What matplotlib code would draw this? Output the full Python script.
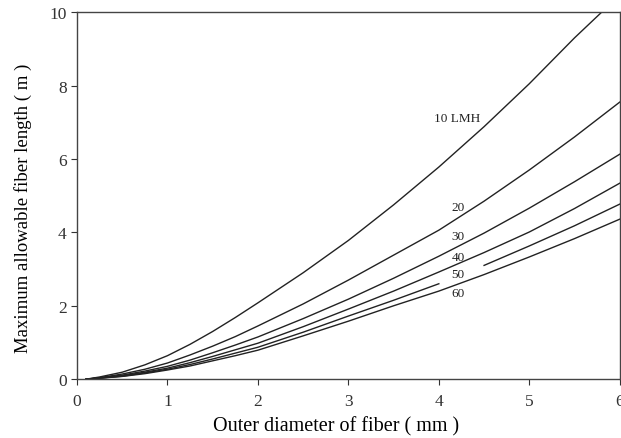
import numpy as np
import matplotlib
matplotlib.use("Agg")
import matplotlib.pyplot as plt

plt.rcParams['font.family'] = ['Liberation Serif', 'DejaVu Serif']

# Outer diameter of fiber (mm)
x_common = [0.1, 0.25, 0.5, 0.75, 1.0, 1.25, 1.5, 1.75, 2.0, 2.5, 3.0, 3.5, 4.0, 4.5, 5.0, 5.5, 6.0]
x_10 = [0.1, 0.25, 0.5, 0.75, 1.0, 1.25, 1.5, 1.75, 2.0, 2.5, 3.0, 3.5, 4.0, 4.5, 5.0, 5.5, 5.8]
x_50 = [0.1, 0.25, 0.5, 0.75, 1.0, 1.25, 1.5, 1.75, 2.0, 2.5, 3.0, 3.5, 4.0, 4.25, 4.5, 5.0, 5.5, 6.0]

# Maximum allowable fiber length (m) for each flux (LMH)
y_10 = [0.0, 0.06, 0.19, 0.39, 0.64, 0.95, 1.30, 1.68, 2.08, 2.90, 3.78, 4.75, 5.78, 6.88, 8.05, 9.30, 10.0]
y_20 = [0.0, 0.04, 0.14, 0.27, 0.44, 0.66, 0.90, 1.16, 1.45, 2.05, 2.70, 3.38, 4.06, 4.85, 5.70, 6.60, 7.55]
y_30 = [0.0, 0.035, 0.11, 0.22, 0.35, 0.52, 0.72, 0.93, 1.15, 1.65, 2.18, 2.75, 3.35, 3.98, 4.66, 5.38, 6.13]
y_40 = [0.0, 0.03, 0.09, 0.19, 0.30, 0.45, 0.62, 0.80, 0.98, 1.43, 1.91, 2.40, 2.92, 3.45, 4.01, 4.65, 5.34]
y_50 = [0.0, 0.03, 0.08, 0.17, 0.27, 0.40, 0.55, 0.71, 0.87, 1.28, 1.72, 2.15, 2.60, np.nan, 3.10, 3.63, 4.18, 4.77]
y_60 = [0.0, 0.025, 0.075, 0.15, 0.25, 0.36, 0.50, 0.64, 0.79, 1.18, 1.58, 2.00, 2.40, 2.85, 3.33, 3.83, 4.36]

labels = ["10 LMH", "20", "30", "40", "50", "60"]
label_pos = [(3.95, 7.12), (4.14, 4.7), (4.14, 3.9), (4.14, 3.32), (4.14, 2.87), (4.14, 2.35)]

fig = plt.figure(figsize=(6.21, 4.39), dpi=100)
ax = fig.add_axes([0.124, 0.134, 0.874, 0.836])

col = '#222222'
for xs, ys in [(x_10, y_10), (x_common, y_20), (x_common, y_30),
               (x_common, y_40), (x_50, y_50), (x_common, y_60)]:
    ax.plot(xs, ys, color=col, lw=1.0)

for lab, (lx, ly) in zip(labels, label_pos):
    ax.text(lx, ly, lab, fontsize=9.5, ha='left', va='center', color=col)

ax.set_xlim(0, 6)
ax.set_ylim(0, 10)
ax.set_xticks([0, 1, 2, 3, 4, 5, 6])
ax.set_yticks([0, 2, 4, 6, 8, 10])
ax.tick_params(direction='out', length=4, width=0.8, labelsize=12.5, colors='#333333')
ax.tick_params(axis='x', pad=6)
for s in ax.spines.values():
    s.set_color('#444444')
    s.set_linewidth(1.0)

xl = ax.set_xlabel('Outer diameter of fiber ( mm )', fontsize=14.5)
yl = ax.set_ylabel('Maximum allowable fiber length ( m )', fontsize=13.5)
xl.set_va('center')
yl.set_va('center')
ax.xaxis.set_label_coords(0.477, -0.128)
ax.yaxis.set_label_coords(-0.099, 0.469)

fig.savefig('out.png', dpi=100)
